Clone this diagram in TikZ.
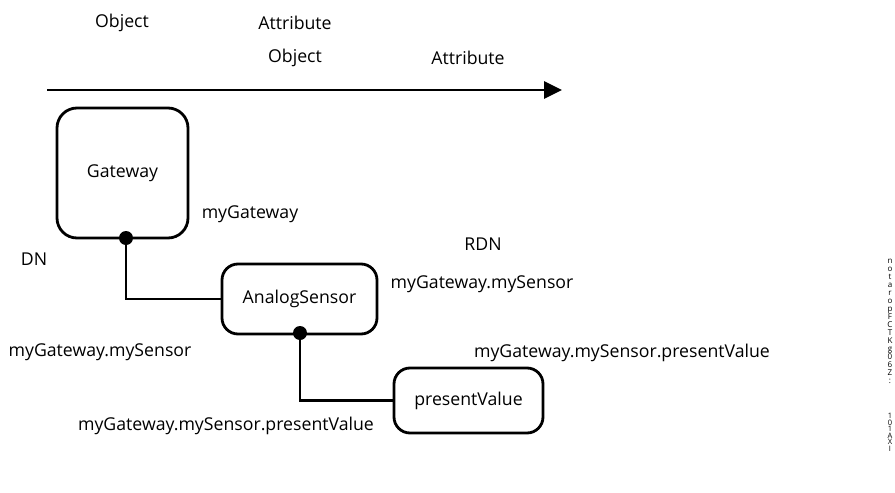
\documentclass[tikz,border=0pt]{standalone}
\usepackage{fontspec}
\setmainfont{Open Sans}
\usetikzlibrary{arrows.meta}
\begin{document}
\begin{tikzpicture}[x=1pt,y=-1pt,
  lbl/.style={font=\fontsize{17.7}{20}\selectfont, inner sep=0pt},
  objbox/.style={draw, line width=2.8pt, rounded corners=16pt, align=center,
    font=\fontsize{17.7}{20}\selectfont},
  joint/.style={circle, fill, inner sep=0pt, minimum size=14pt},
  link/.style={line width=2.8pt},
  tiny/.style={font=\fontsize{8}{8}\selectfont, align=center, inner sep=0pt}]
\useasboundingbox (0,0) rectangle (895,493);

% header labels and the naming direction arrow
\node[lbl] (o1) at (122,23) {Object};
\node[lbl] (a1) at (295,23) {Attribute};
\node[lbl] (o2) at (295,58) {Object};
\node[lbl] (a2) at (468,58) {Attribute};
\coordinate (axs) at (47,90);
\coordinate (axe) at (562,90);
\draw[line width=2.8pt, -{Triangle[length=18pt,width=17pt]}] (axs) -- (axe);

% object boxes
\node[objbox, minimum width=131pt, minimum height=130pt, rounded corners=20pt] (gw) at (122.5,173) {Gateway};
\node[objbox, minimum width=155pt, minimum height=70pt] (as) at (299.5,299) {AnalogSensor};
\node[objbox, minimum width=149pt, minimum height=65pt] (pv) at (468.5,400.5) {presentValue};

% containment joints and links
\node[joint] (j1) at (126,238) {};
\node[joint] (j2) at (300,333) {};
\draw[link] (j1.center) |- (as.west);
\draw[link] (j2.center) |- (pv.west);

% names
\node[lbl] (n1) at (250,214) {myGateway};
\node[lbl] (dn) at (34,259) {DN};
\node[lbl] (rdn) at (483,244) {RDN};
\node[lbl] (n2) at (482,284) {myGateway.mySensor};
\node[lbl] (n3) at (100,352) {myGateway.mySensor};
\node[lbl] (n4) at (622,353) {myGateway.mySensor.presentValue};
\node[lbl] (n5) at (226,426) {myGateway.mySensor.presentValue};

% small stacked characters at the right margin
\node[tiny, anchor=north] (s1) at (890,259) {n\\o\\t\\a\\r\\o\\p\\F\\C\\T\\K\\g\\0\\6\\Z\\:};
\node[tiny, anchor=north, font=\fontsize{7.5}{6.5}\selectfont] (s2) at (890,413) {1\\0\\1\\A\\X\\I};
\end{tikzpicture}
\end{document}
